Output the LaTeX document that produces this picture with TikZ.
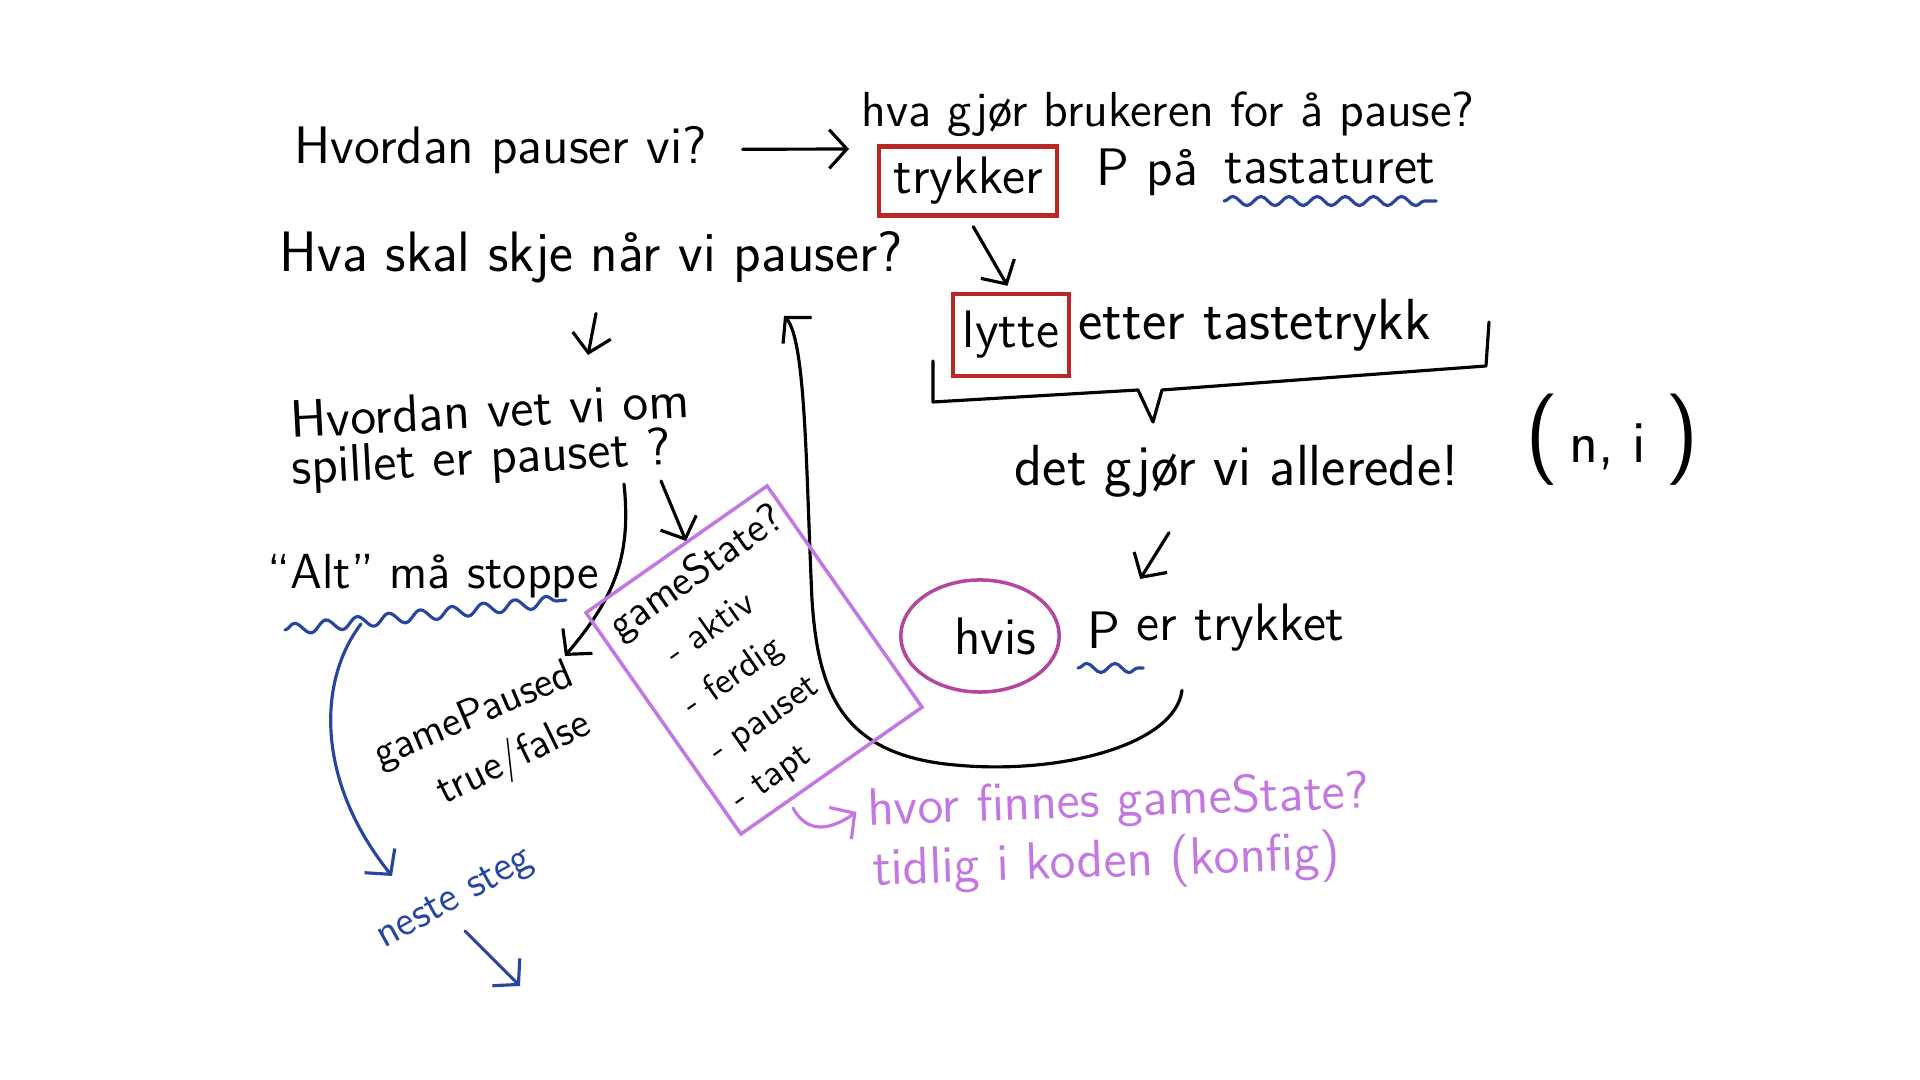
\documentclass[tikz,border=0pt]{standalone}
\usepackage{fontspec}
\usetikzlibrary{arrows.meta,decorations.pathmorphing,shapes.geometric,positioning}

\definecolor{boxred}{RGB}{185,40,40}
\definecolor{inkblue}{RGB}{40,70,160}
\definecolor{lilac}{RGB}{195,120,225}
\definecolor{plum}{RGB}{180,70,160}

\newcommand{\bigparen}[1]{{\fontsize{26}{26}\selectfont #1}}

\tikzset{
  hand/.style={font=\sffamily\fontsize{15}{18}\selectfont, inner sep=0pt},
  small/.style={font=\sffamily\fontsize{12}{15}\selectfont, inner sep=0pt},
  pen/.style={line width=0.9pt, line cap=round, line join=round},
  arr/.style={pen, -{Straight Barb[length=5pt,width=11pt]}},
  redbox/.style={hand, draw=boxred, line width=1.2pt},
  wave/.style={pen, draw=inkblue, decorate,
    decoration={snake, amplitude=1.3pt, segment length=8pt}},
}

\begin{document}
\begin{tikzpicture}[x=0.01cm, y=-0.01cm]
\useasboundingbox (0,0) rectangle (1920,1080);

% ===== 上の段 =====
\node[hand, anchor=west] (q1) at (294,150) {Hvordan pauser vi?};
\node[hand, anchor=west, font=\sffamily\fontsize{14}{17}\selectfont] (bruker) at (861,114) {hva gjør brukeren for å pause?};
\node[redbox, minimum width=1.78cm, minimum height=0.69cm] (trykker) at (968,181) {trykker};
\node[hand, anchor=west] (ppaa) at (1096,172) {P på};
\node[hand, anchor=west] (tastatur) at (1224,169) {tastaturet};
\coordinate (q1end) at (849,149);

\draw[arr, shorten <=10pt] (q1) -- (q1end);
\draw[wave] ([shift={(0,16)}]tastatur.south west) -- ([shift={(0,16)}]tastatur.south east);

% ===== lytte etter tastetrykk =====
\node[hand, anchor=west, font=\sffamily\fontsize{16.2}{19}\selectfont] (q2) at (279,257) {Hva skal skje når vi pauser?};
\node[redbox, minimum width=1.16cm, minimum height=0.82cm] (lytte) at (1011,335) {lytte};
\node[hand, anchor=west, font=\sffamily\fontsize{16.5}{19}\selectfont] (tastetrykk) at (1078,325) {etter tastetrykk};
\draw[arr, shorten <=3pt, shorten >=2pt] (trykker.south) -- (lytte.north);

% klamme
\coordinate (tip) at (1153,422);
\draw[pen] (933,361) -- (933,402) -- (1138,390) -- (tip) -- (1162,390) -- (1486,366) -- (1489,322);

\node[hand, anchor=west, font=\sffamily\fontsize{16.5}{19}\selectfont] (allerede) at (1014,471) {det gjør vi allerede!};
\node[hand, anchor=west, font=\sffamily\fontsize{17}{20}\selectfont] (ni) at (1525,440) {\bigparen{(}\,n, i\hspace{0.2cm}\bigparen{)}};

% ===== hvis P er trykket =====
\node[hand, ellipse, draw=plum, line width=1pt, minimum width=1.41cm, minimum height=1.12cm] (hvis) at (980,636) {\hspace{0.3cm}hvis};
\node[hand, anchor=west] (P) at (1087,630) {P};
\node[hand, anchor=west] (trykket) at (1136,628) {er trykket};
\draw[wave] ([shift={(-9,19)}]P.south west) -- ([shift={(22,19)}]P.south east);
\draw[arr] ([shift={(155,35)}]allerede.south west) -- ([shift={(36,-32)}]P.north);

% tilbake til pauser?
\coordinate (pausertip) at (784,316);
\draw[arr] ([shift={(46,38)}]trykket.south west)
  .. controls (1175,745) and (1060,775) .. (955,765)
  .. controls (840,755) and (818,690) .. (812,600)
  .. controls (806,470) and (806,340) .. (pausertip);

% ===== venstre side =====
\draw[arr] ([shift={(317,30)}]q2.south west) -- (588,355);
\node[hand, anchor=west, rotate=3] (q3a) at (290,420) {Hvordan vet vi om};
\node[hand, anchor=west, rotate=3] (q3b) at (291,471) {spillet er pauset ?};

\node[hand, anchor=west, font=\sffamily\fontsize{14}{17}\selectfont] (alt) at (267,576) {``Alt'' må stoppe};
\draw[wave, decoration={amplitude=1.6pt, segment length=9pt}] (285,630) -- (566,600);

\node[small, rotate=23] (paused) at (474,716) {gamePaused};
\node[small, rotate=26] (truefalse) at (514,759) {true/false};
\node[small, text=inkblue, rotate=29] (neste) at (456,900) {neste steg};
\coordinate (nestetip) at (392,876);
\coordinate (nestestart) at (465,931);
\coordinate (nesteend) at (520,986);

\draw[arr] (624,484) .. controls (632,560) and (612,600) .. (paused.north east);
\draw[arr] (661,481) -- (686,541);
\draw[arr, draw=inkblue] (361,624) .. controls (318,680) and (315,780) .. (nestetip);
\draw[arr, draw=inkblue] (nestestart) -- (nesteend);

% ===== gameState =====
\node[rotate=35, draw=lilac, line width=1pt, minimum width=2.21cm, minimum height=2.7cm,
      inner sep=0pt, text width=1.95cm, align=left, font=\sffamily\fontsize{10.5}{14.8}\selectfont] (state) at (754,660)
  {{\fontsize{12}{14.8}\selectfont gameState?}\\ \hspace{0.3cm}- aktiv\\ \hspace{0.15cm}- ferdig\\ \hspace{0.1cm}- pauset\\ - tapt};

\node[hand, text=lilac, anchor=west, rotate=2] (hvor) at (867,812) {hvor finnes gameState?};
\node[hand, text=lilac, anchor=west, rotate=2] (tidlig) at (872,872) {tidlig i koden (konfig)};
\coordinate (statebot) at (793,808);
\draw[arr, draw=lilac] (statebot) .. controls (805,830) and (825,834) .. ([xshift=-3pt]hvor.west);

\end{tikzpicture}
\end{document}
